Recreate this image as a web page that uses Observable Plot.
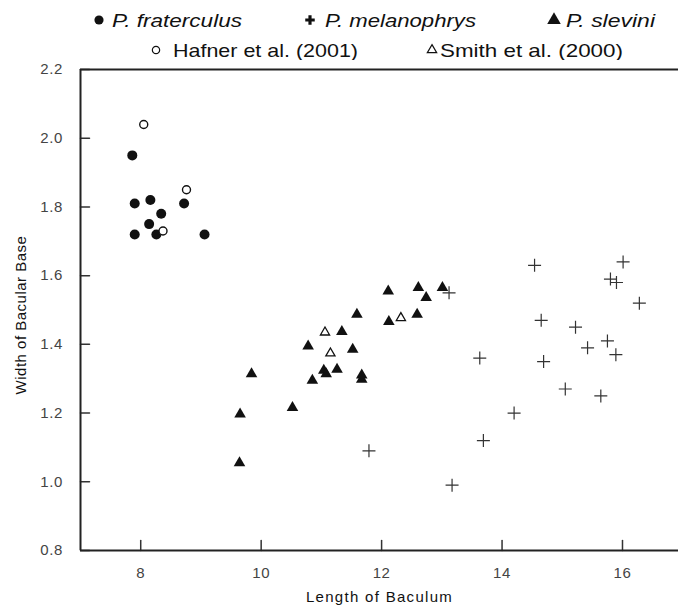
<!DOCTYPE html>
<html>
<head>
<meta charset="utf-8">
<script src="https://cdn.jsdelivr.net/npm/d3@7"></script>
<script src="https://cdn.jsdelivr.net/npm/@observablehq/plot@0.6"></script>
<style>
  html, body { margin: 0; padding: 0; background: #fff; }
  #wrap { width: 678px; overflow: hidden; }
  #legend { display: block; }
  #chart svg { display: block; overflow: visible; }
</style>
</head>
<body>
<div id="wrap">
  <svg id="legend" width="678" height="60"></svg>
  <div id="chart"></div>
</div>
<script>
// ---- categories / labels ----
const speciesNames = ["P. fraterculus", "P. melanophrys", "P. slevini"];
const sourceNames = ["Hafner et al. (2001)", "Smith et al. (2000)"];
const xTitle = "Length of Baculum";
const yTitle = "Width of Bacular Base";
const xTicks = [8, 10, 12, 14, 16];
const yTicks = [0.8, 1.0, 1.2, 1.4, 1.6, 1.8, 2.0, 2.2];

// ---- series values ----
// P. fraterculus (filled circles)
const fratX = [7.86, 7.90, 8.16, 8.34, 8.14, 7.90, 8.26, 8.72, 9.06];
const fratY = [1.95, 1.81, 1.82, 1.78, 1.75, 1.72, 1.72, 1.81, 1.72];
// Hafner et al. (2001) (open circles)
const hafX = [8.05, 8.76, 8.37];
const hafY = [2.04, 1.85, 1.73];
// P. slevini (filled triangles)
const slevX = [12.11, 12.61, 12.74, 13.01, 11.59, 12.12, 12.59, 11.34, 10.78, 11.52,
               9.84, 11.04, 11.08, 11.26, 10.85, 11.67, 11.67, 10.52, 9.65, 9.64];
const slevY = [1.555, 1.565, 1.536, 1.565, 1.487, 1.466, 1.487, 1.437, 1.395, 1.385,
               1.314, 1.324, 1.314, 1.327, 1.295, 1.298, 1.31, 1.216, 1.197, 1.055];
// Smith et al. (2000) (open triangles)
const smithX = [12.32, 11.06, 11.15];
const smithY = [1.477, 1.435, 1.374];
// P. melanophrys (crosses)
const melX = [16.01, 14.54, 15.80, 15.90, 16.28, 13.12, 14.65, 15.22, 15.75, 15.42,
              15.89, 13.63, 14.69, 15.05, 15.64, 14.20, 13.69, 13.17, 11.79];
const melY = [1.64, 1.63, 1.59, 1.58, 1.52, 1.55, 1.47, 1.45, 1.41, 1.39,
              1.37, 1.36, 1.35, 1.27, 1.25, 1.20, 1.12, 0.99, 1.09];

const toRows = (xs, ys) => xs.map((x, i) => ({x, y: ys[i]}));
const frat = toRows(fratX, fratY);
const haf = toRows(hafX, hafY);
const slev = toRows(slevX, slevY);
const smith = toRows(smithX, smithY);
const mel = toRows(melX, melY);

// thin "+" marker for P. melanophrys
const thinPlus = {
  draw(context, size) {
    const r = Math.sqrt(size / Math.PI);
    context.moveTo(-r, 0); context.lineTo(r, 0);
    context.moveTo(0, -r); context.lineTo(0, r);
  }
};
// plain line shape for inward tick vectors
const tickLine = {
  draw(context, l) {
    context.moveTo(0, 0);
    context.lineTo(0, -l);
  }
};

const font = "'Liberation Sans', Arial, Helvetica, sans-serif";
const ink = "#111";
const axisInk = "#444";

const chart = Plot.plot({
  width: 678,
  height: 553,
  marginTop: 9,
  marginBottom: 63,
  marginLeft: 80,
  marginRight: 0,
  style: {fontFamily: font, fontSize: "15px", background: "#fff"},
  x: {domain: [7, 16.93]},
  y: {domain: [0.8, 2.2]},
  marks: [
    // inward tick marks: short lines pointing into the frame
    Plot.vector(yTicks, {x: () => 7, y: d => d, rotate: 90, length: 9, anchor: "start",
                         shape: tickLine, stroke: "#333", strokeWidth: 1.5}),
    Plot.vector(xTicks, {x: d => d, y: () => 0.8, rotate: 0, length: 10, anchor: "start",
                         shape: tickLine, stroke: "#333", strokeWidth: 1.5}),
    // tick labels
    Plot.axisY({ticks: yTicks, tickSize: 0, tickPadding: 17.5, tickFormat: d3.format(".1f"),
                label: null, fill: axisInk, fontSize: 15}),
    Plot.axisX({ticks: xTicks, tickSize: 0, tickPadding: 17, tickFormat: d => String(d),
                label: null, fill: axisInk, fontSize: 15}),
    Plot.ruleX([7], {stroke: "#222", strokeWidth: 2}),
    Plot.ruleY([0.8], {stroke: "#222", strokeWidth: 2}),
    Plot.ruleY([2.2], {stroke: "#222", strokeWidth: 2}),
    Plot.text([xTitle], {frameAnchor: "bottom", textAnchor: "middle", dy: 51, text: d => d, fontSize: 15, fill: ink}),
    Plot.text([yTitle], {frameAnchor: "left", textAnchor: "middle", dx: -59, dy: 5, rotate: -90, text: d => d, fontSize: 15, fill: ink}),
    Plot.dot(frat, {x: "x", y: "y", r: 5, fill: ink, stroke: null}),
    Plot.dot(slev, {x: "x", y: "y", symbol: "triangle", r: 4.3, fill: ink, stroke: null}),
    Plot.dot(haf, {x: "x", y: "y", r: 4, fill: "#fff", stroke: ink, strokeWidth: 1.4}),
    Plot.dot(smith, {x: "x", y: "y", symbol: "triangle", r: 3.4, fill: "#fff", stroke: ink, strokeWidth: 1.3}),
    Plot.dot(mel, {x: "x", y: "y", symbol: thinPlus, r: 6.5, fill: "none", stroke: "#333", strokeWidth: 1.2})
  ]
});
document.getElementById("chart").appendChild(chart);

// letter spacing to mimic the horizontally stretched original type
d3.select(chart).selectAll("text").each(function () {
  const t = d3.select(this);
  const s = t.text();
  if (s === xTitle) t.style("letter-spacing", "1.3px");
  else if (s === yTitle) t.style("letter-spacing", "0.5px");
  else t.style("letter-spacing", "0.6px");
});

// ---- legend (above the plot) ----
const legend = d3.select("#legend");
const items = [
  {label: speciesNames[0], sym: d3.symbolCircle, size: 66, filled: true, cx: 99, cy: 20, tx: 112, tl: 130, by: 27, italic: true},
  {label: speciesNames[1], sym: d3.symbolCross, size: 50, filled: true, cx: 310, cy: 20, tx: 325, tl: 151, by: 27, italic: true},
  {label: speciesNames[2], sym: d3.symbolTriangle, size: 80, filled: true, cx: 554, cy: 20, tx: 566, tl: 89, by: 27, italic: true},
  {label: sourceNames[0], sym: d3.symbolCircle, size: 42, filled: false, cx: 156, cy: 50, tx: 173, tl: 185, by: 57, italic: false},
  {label: sourceNames[1], sym: d3.symbolTriangle, size: 38, filled: false, cx: 432, cy: 50, tx: 440, tl: 183, by: 57, italic: false}
];
for (const it of items) {
  legend.append("path")
    .attr("d", d3.symbol(it.sym, it.size)())
    .attr("transform", `translate(${it.cx},${it.cy})`)
    .attr("fill", it.filled ? ink : "#fff")
    .attr("stroke", it.filled ? "none" : ink)
    .attr("stroke-width", 1.2);
  legend.append("text")
    .attr("x", it.tx).attr("y", it.by)
    .attr("font-family", font)
    .attr("font-size", 19)
    .attr("font-style", it.italic ? "italic" : "normal")
    .attr("fill", ink)
    .attr("textLength", it.tl)
    .attr("lengthAdjust", "spacingAndGlyphs")
    .text(it.label);
}
</script>
</body>
</html>
